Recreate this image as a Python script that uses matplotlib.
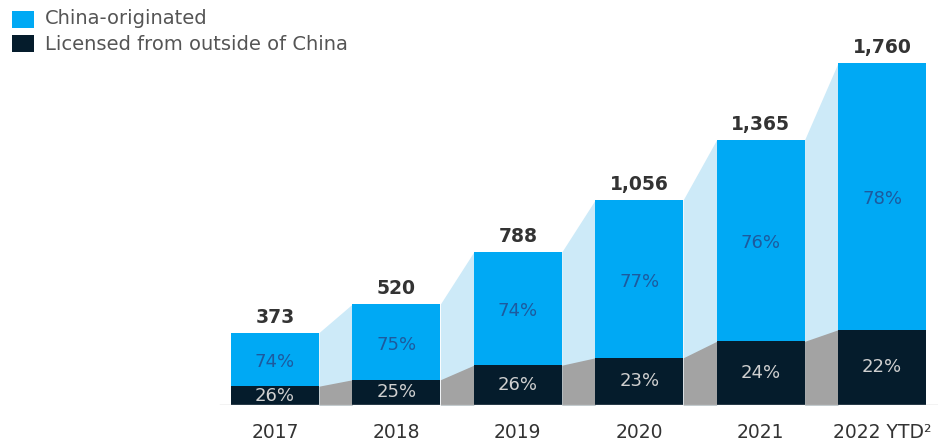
import matplotlib
matplotlib.use("Agg")
import matplotlib.pyplot as plt
from matplotlib.patches import Rectangle

categories = ["2017", "2018", "2019", "2020", "2021", "2022 YTD²"]
totals = [373, 520, 788, 1056, 1365, 1760]
china_pct = [74, 75, 74, 77, 76, 78]
licensed_pct = [26, 25, 26, 23, 24, 22]
legend_labels = ["China-originated", "Licensed from outside of China"]

c_blue = "#00a9f4"
c_dark = "#051c2c"
c_light = "#cdeaf8"
c_gray = "#a3a3a3"

W, H = 938, 442
fig = plt.figure(figsize=(W / 100, H / 100), dpi=100)
base_px = 37
ax = fig.add_axes([0, base_px / H, 1, 1 - base_px / H])

px_per_unit = 121.4
x0_px = 275
ax.set_xlim(-x0_px / px_per_unit, (W - x0_px) / px_per_unit)
ylim_top = (H - base_px) / (342 / 1760)
ax.set_ylim(0, ylim_top)
ax.axis("off")

xs = list(range(len(categories)))
bw = 88 / px_per_unit
dark = [t * p / 100 for t, p in zip(totals, licensed_pct)]
blue = [t - d for t, d in zip(totals, dark)]

# connector shading
for i in range(len(xs) - 1):
    xa = xs[i] + bw / 2
    xb = xs[i + 1] - bw / 2
    ax.fill_between([xa, xb], [totals[i], totals[i + 1]], 0, color=c_light, lw=0, zorder=1)
    ax.fill_between([xa, xb], [dark[i], dark[i + 1]], 0, color=c_gray, lw=0, zorder=2)

ax.bar(xs, dark, width=bw, color=c_dark, zorder=3)
ax.bar(xs, blue, width=bw, bottom=dark, color=c_blue, zorder=3)

ax.plot([-0.45, ax.get_xlim()[1]], [0, 0], color="#c4c4c4", lw=1, zorder=4)

for x, t, d, b, cp, lp, cat in zip(xs, totals, dark, blue, china_pct, licensed_pct, categories):
    ax.text(x, t + 50, f"{t:,}", ha="center", va="baseline", fontsize=13.5, fontweight="semibold",
            color="#333333", zorder=5)
    ax.text(x, d + b / 2 - 15, f"{cp}%", ha="center", va="center", fontsize=13,
            color="#1d5a9e", zorder=5)
    ax.text(x, d / 2, f"{lp}%", ha="center", va="center", fontsize=13, color="#d0d0d0", zorder=5)
    fig.text((x0_px + x * px_per_unit) / W, 4 / H, cat, ha="center", va="baseline", fontsize=13.5,
             color="#333333")

# legend
for j, (lab, col) in enumerate(zip(legend_labels, [c_blue, c_dark])):
    top = 11 + j * 24
    fig.add_artist(Rectangle((12 / W, 1 - (top + 17) / H), 22 / W, 17 / H, transform=fig.transFigure,
                             facecolor=col, edgecolor="none"))
    fig.text(45 / W, 1 - (19 + j * 26) / H, lab, ha="left", va="center", fontsize=14, color="#555555")

fig.savefig("out.png", dpi=100)
